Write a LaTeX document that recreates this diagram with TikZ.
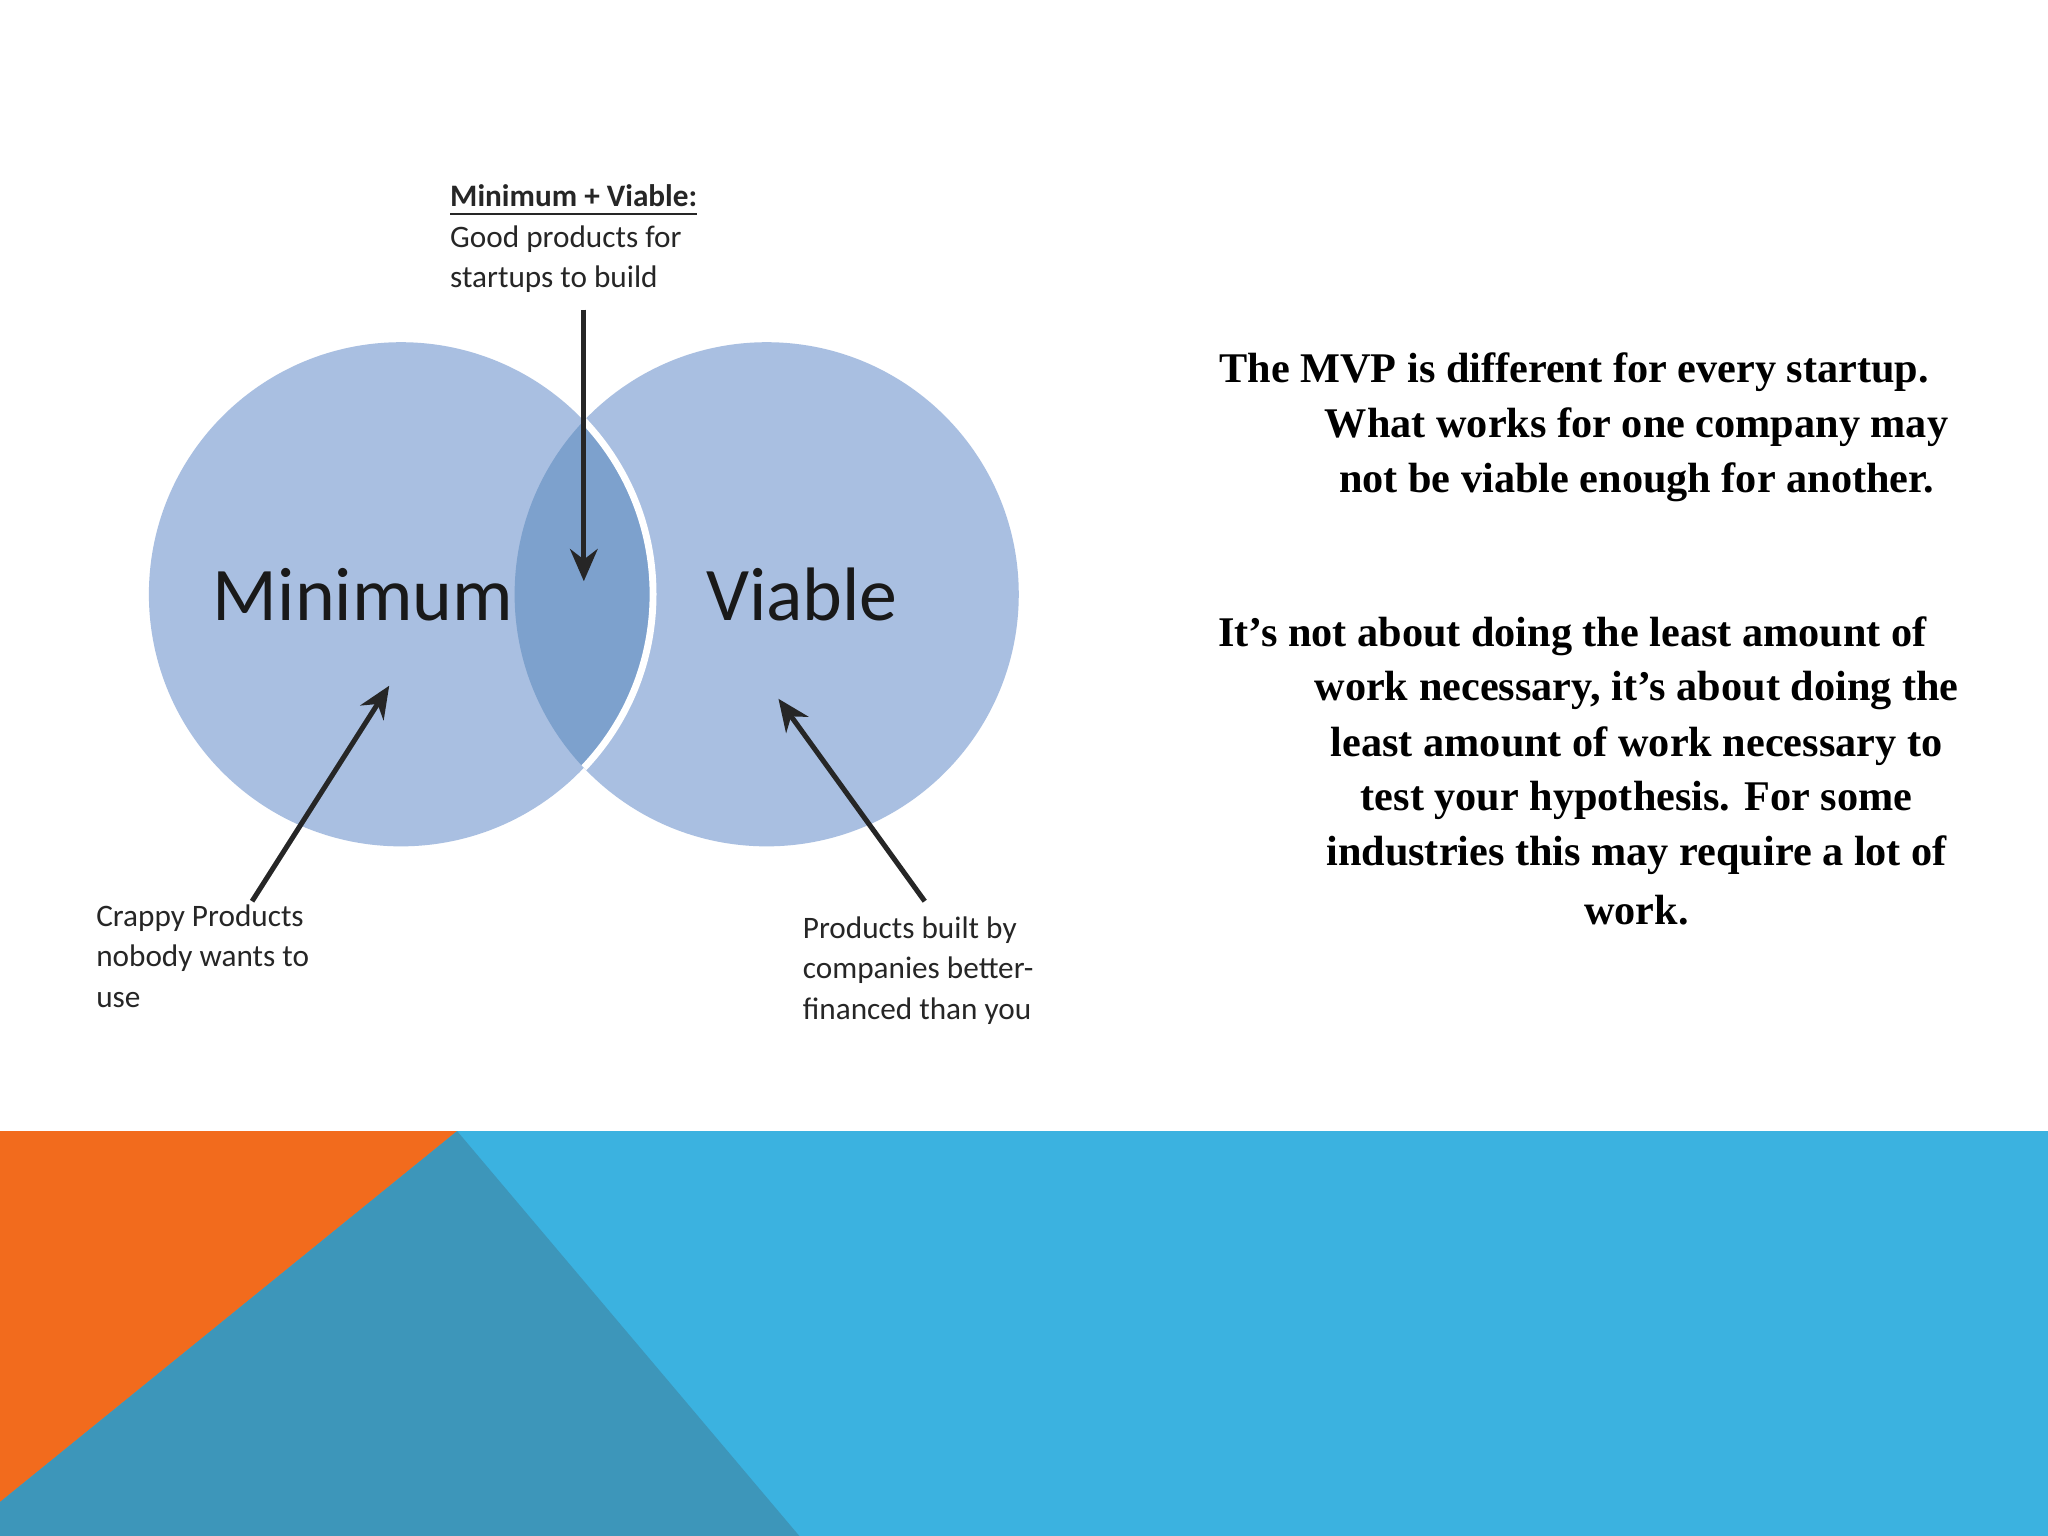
\documentclass[tikz,border=0pt]{standalone}
\usepackage{fontspec}
\setmainfont{Carlito}
\newfontfamily\tnr{Liberation Serif}
\usetikzlibrary{arrows.meta}
\definecolor{circ}{HTML}{A9BFE1}
\definecolor{over}{HTML}{7DA1CD}
\definecolor{sky}{HTML}{3BB2E0}
\definecolor{org}{HTML}{F26B1D}
\definecolor{teal}{HTML}{3D96BA}
\tikzset{
  lab/.style={font=\fontsize{6.8}{8.8}\selectfont, align=left, anchor=north west, inner sep=0pt, text=black!85},
  big/.style={font=\fontsize{16.5}{18}\selectfont, text=black!90},
  rt/.style={font=\tnr\bfseries\fontsize{9.2}{11}\selectfont, inner sep=0pt},
  arr/.style={-{Stealth[length=7pt,width=6pt]}, line width=1.1pt, black!85},
}
\begin{document}
\begin{tikzpicture}[x=0.01cm,y=-0.01cm]
\useasboundingbox (0,0) rectangle (1568,1176);
\fill[white] (0,0) rectangle (1568,1176);
% bottom band
\fill[sky] (0,866) rectangle (1568,1176);
\fill[org] (0,866) -- (350,866) -- (0,1150) -- cycle;
\fill[teal] (350,866) -- (612,1176) -- (0,1176) -- (0,1150) -- cycle;
% circles
\fill[circ] (307,455) circle (193);
\fill[circ] (587,455) circle (193);
\begin{scope}
  \clip (307,455) circle (193);
  \fill[over] (587,455) circle (193);
\end{scope}
\begin{scope}
  \clip (587,455) circle (193);
  \draw[white, line width=1.5pt] (307,455) circle (193);
\end{scope}
\node[big] (min) at (278,455) {Minimum};
\node[big] (via) at (614,455) {Viable};
% labels
\node[lab] (top) at (344,141) {\underline{\textbf{Minimum + Viable:}}\\Good products for\\startups to build};
\node[lab] (crap) at (73,692) {Crappy Products\\nobody wants to\\use};
\node[lab] (fin) at (614,701) {Products built by\\companies better-\\financed than you};
\coordinate (a1s) at (447,237); \coordinate (a1e) at (447,445);
\coordinate (a2s) at (193,690); \coordinate (a2e) at (298,525);
\coordinate (a3s) at (708,690); \coordinate (a3e) at (596,535);
\draw[arr] (a1s) -- (a1e);
\draw[arr] (a2s) -- (a2e);
\draw[arr] (a3s) -- (a3e);
% right text
\node[rt, anchor=west] (r1) at (933,285) {The MVP is different for every startup.};
\node[rt] (r2) at (1253,327) {What works for one company may};
\node[rt] (r3) at (1253,369) {not be viable enough for another.};
\node[rt, anchor=west] (s1) at (932,487) {It’s not about doing the least amount of};
\node[rt] (s2) at (1253,529) {work necessary, it’s about doing the};
\node[rt] (s3) at (1253,571) {least amount of work necessary to};
\node[rt] (s4) at (1253,613) {test your hypothesis. For some};
\node[rt] (s5) at (1253,655) {industries this may require a lot of};
\node[rt] (s6) at (1253,697) {work.};
\end{tikzpicture}
\end{document}
